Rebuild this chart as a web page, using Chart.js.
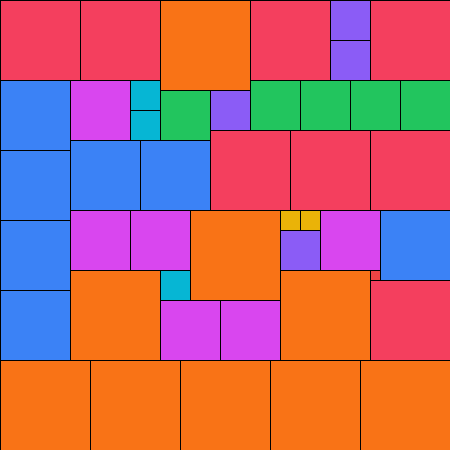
<!DOCTYPE html>
<html>
<head>
<meta charset="utf-8">
<script src="https://cdn.jsdelivr.net/npm/chart.js@4/dist/chart.umd.min.js"></script>
<style>
  html, body { margin: 0; padding: 0; background: #fff; }
  #wrap { width: 450px; height: 450px; }
</style>
</head>
<body>
<div id="wrap"><canvas id="c"></canvas></div>
<script>
// each tile: [x, y, size] in grid units (grid is 45 x 45)
const red = [[0, 0, 8], [8, 0, 8], [25, 0, 8], [37, 0, 8], [21, 13, 8], [29, 13, 8], [37, 13, 8], [37, 28, 8]];
const orange = [[16, 0, 9], [19, 21, 9], [7, 27, 9], [28, 27, 9], [0, 36, 9], [9, 36, 9], [18, 36, 9], [27, 36, 9], [36, 36, 9]];
const purple = [[33, 0, 4], [33, 4, 4], [21, 9, 4], [28, 23, 4]];
const blue = [[0, 8, 7], [0, 15, 7], [0, 22, 7], [0, 29, 7], [7, 14, 7], [14, 14, 7], [38, 21, 7]];
const magenta = [[7, 8, 6], [7, 21, 6], [13, 21, 6], [32, 21, 6], [16, 30, 6], [22, 30, 6]];
const cyan = [[13, 8, 3], [13, 11, 3], [16, 27, 3]];
const green = [[16, 9, 5], [25, 8, 5], [30, 8, 5], [35, 8, 5], [40, 8, 5]];
const yellow = [[28, 21, 2], [30, 21, 2]];
const smallRed = [[37, 27, 1]];

const groups = [
  { name: 'red', tiles: red, color: '#f43f5e' },
  { name: 'orange', tiles: orange, color: '#f97316' },
  { name: 'purple', tiles: purple, color: '#8b5cf6' },
  { name: 'blue', tiles: blue, color: '#3b82f6' },
  { name: 'magenta', tiles: magenta, color: '#d946ef' },
  { name: 'cyan', tiles: cyan, color: '#06b6d4' },
  { name: 'green', tiles: green, color: '#22c55e' },
  { name: 'yellow', tiles: yellow, color: '#eab308' },
  { name: 'smallRed', tiles: smallRed, color: '#ef4444' }
];

// draws each point as a square tile through the x / y scales
const tilePlugin = {
  id: 'tiles',
  afterDatasetsDraw(chart) {
    const ctx = chart.ctx;
    const xs = chart.scales.x, ys = chart.scales.y;
    ctx.save();
    ctx.lineWidth = 1;
    ctx.strokeStyle = '#000';
    chart.data.datasets.forEach(ds => {
      ds.data.forEach(p => {
        const x0 = Math.round(xs.getPixelForValue(p.x));
        const x1 = Math.round(xs.getPixelForValue(p.x + p.s));
        const y0 = Math.round(ys.getPixelForValue(p.y));
        const y1 = Math.round(ys.getPixelForValue(p.y + p.s));
        ctx.fillStyle = ds.backgroundColor;
        ctx.fillRect(x0, y0, x1 - x0, y1 - y0);
        ctx.strokeRect(x0 + 0.5, y0 + 0.5, x1 - x0, y1 - y0);
      });
    });
    ctx.restore();
  }
};

new Chart(document.getElementById('c'), {
  type: 'scatter',
  data: {
    datasets: groups.map(g => ({
      label: g.name,
      backgroundColor: g.color,
      pointRadius: 0,
      data: g.tiles.map(t => ({ x: t[0], y: t[1], s: t[2] }))
    }))
  },
  options: {
    responsive: true,
    maintainAspectRatio: false,
    animation: false,
    layout: { padding: 0 },
    plugins: { legend: { display: false }, tooltip: { enabled: false } },
    scales: {
      x: { type: 'linear', min: 0, max: 45, display: false },
      y: { type: 'linear', min: 0, max: 45, reverse: true, display: false }
    }
  },
  plugins: [tilePlugin]
});
</script>
</body>
</html>
